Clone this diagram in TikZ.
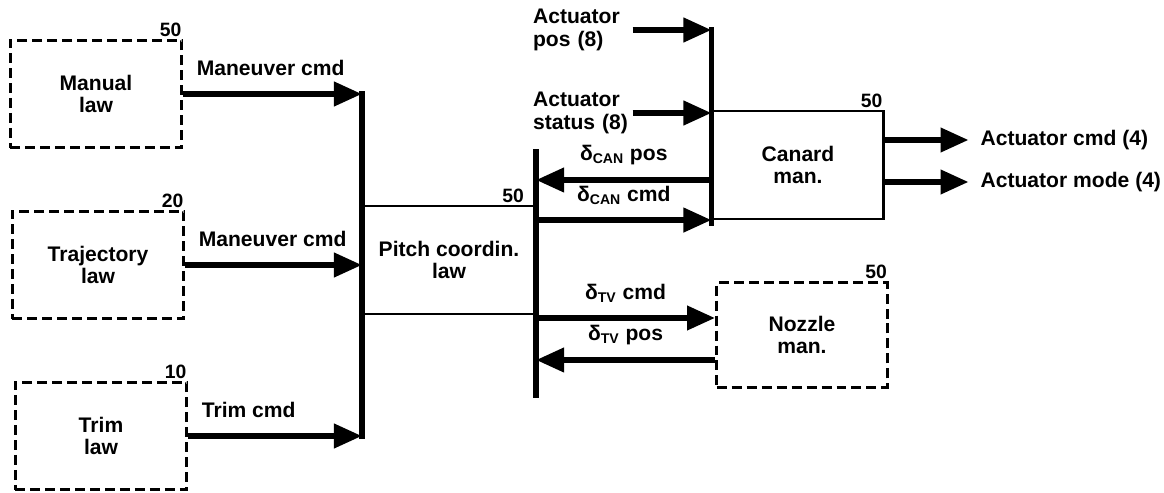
\documentclass[tikz,border=0pt]{standalone}
\usepackage{fontspec}
\setmainfont{Liberation Sans}
\usepackage{tikz}
\usetikzlibrary{arrows.meta, positioning, calc}
\tikzset{
  lawbox/.style={rectangle, draw, dash pattern=on 0.2cm off 0.1cm,
    line width=1.7pt, minimum width=3.44cm, minimum height=2.16cm,
    align=center, font=\bfseries\fontsize{12}{12}\selectfont},
  mainbox/.style={rectangle, draw, line width=1.2pt,
    minimum width=3.44cm, minimum height=2.16cm,
    align=center, font=\bfseries\fontsize{12}{12}\selectfont},
  arrow/.style={-{Triangle[length=0.56cm, width=0.47cm]}, line width=3.2pt},
  bar/.style={line width=3.2pt, shorten <=-1.6pt, shorten >=-1.6pt},
  lbl/.style={font=\bfseries\fontsize{12}{13}\selectfont, inner sep=1pt},
  uplbl/.style={lbl, anchor=south west, xshift=5pt, yshift=8pt},
  midlbl/.style={lbl, midway, above=6pt},
  num/.style={font=\bfseries\fontsize{11}{13}\selectfont, anchor=south east, inner sep=1pt}
}

\begin{document}
\begin{tikzpicture}[x=0.02cm, y=-0.02cm]
  \useasboundingbox (0,0) rectangle (1164,493);

  \node[lawbox] (manual) at (96,94) {Manual\\law};
  \node[lawbox] (traj) at (98,265) {Trajectory\\law};
  \node[lawbox] (trim) at (101,436) {Trim\\law};
  \node[num] at (manual.north east) {50};
  \node[num] at (traj.north east) {20};
  \node[num] at (trim.north east) {10};

  \node[mainbox] (pitch) at (449,260) {Pitch coordin.\\law};
  \node[num, xshift=-0.2cm] at (pitch.north east) {50};
  \node[mainbox, minimum width=3.42cm] (canard) at (798,165) {Canard\\man.};
  \node[num] at (canard.north east) {50};
  \node[lawbox, minimum width=3.42cm, minimum height=2.1cm] (nozzle) at (802,335) {Nozzle\\man.};
  \node[num] at (nozzle.north east) {50};

  \draw[arrow] (manual.east) -- node[uplbl, pos=0] {Maneuver cmd} (manual.east -| pitch.west);
  \draw[arrow] (traj.east) -- node[uplbl, pos=0] {Maneuver cmd} (traj.east -| pitch.west);
  \draw[arrow] (trim.east) -- node[uplbl, pos=0] {Trim cmd} (trim.east -| pitch.west);
  \draw[bar] (manual.east -| pitch.west) -- (trim.east -| pitch.west);

  \coordinate (rtop) at ($(pitch.east)+(0,-108)$);
  \coordinate (rbot) at ($(pitch.east)+(0,135)$);
  \draw[bar] (rtop) -- (rbot);

  \node[lbl, text width=1.95cm, align=left, anchor=west] (apos) at (531,30) {Actuator\\pos (8)};
  \node[lbl, text width=1.95cm, align=left, anchor=west] (astat) at (531,113) {Actuator\\status (8)};
  \draw[arrow] (apos.east) -- (apos.east -| canard.west);
  \draw[arrow] (astat.east) -- (astat.east -| canard.west);
  \draw[bar] (apos.east -| canard.west) -- ([yshift=-2pt]canard.south west);

  \coordinate (canpos) at ($(canard.west)+(0,15)$);
  \draw[arrow] (canpos) -- node[midlbl] {δ\textsubscript{CAN} pos} (canpos -| rtop);
  \draw[arrow] (canard.south -| rtop) -- node[midlbl] {δ\textsubscript{CAN} cmd} (canard.south west);

  \coordinate (tvcmd) at ($(nozzle.west)+(0,-17)$);
  \coordinate (tvpos) at ($(nozzle.west)+(0,25)$);
  \draw[arrow] (tvcmd -| rtop) -- node[midlbl] {δ\textsubscript{TV} cmd} (tvcmd);
  \draw[arrow] (tvpos) -- node[midlbl] {δ\textsubscript{TV} pos} (tvpos -| rtop);

  \coordinate (acmd) at ($(canard.east)+(84,-25)$);
  \coordinate (amode) at ($(canard.east)+(84,17)$);
  \draw[arrow] (canard.east |- acmd) -- (acmd);
  \draw[arrow] (canard.east |- amode) -- (amode);
  \node[lbl, right=0.2cm of acmd] (acmdlbl) {Actuator cmd (4)};
  \node[lbl, right=0.2cm of amode] (amodelbl) {Actuator mode (4)};
\end{tikzpicture}
\end{document}
